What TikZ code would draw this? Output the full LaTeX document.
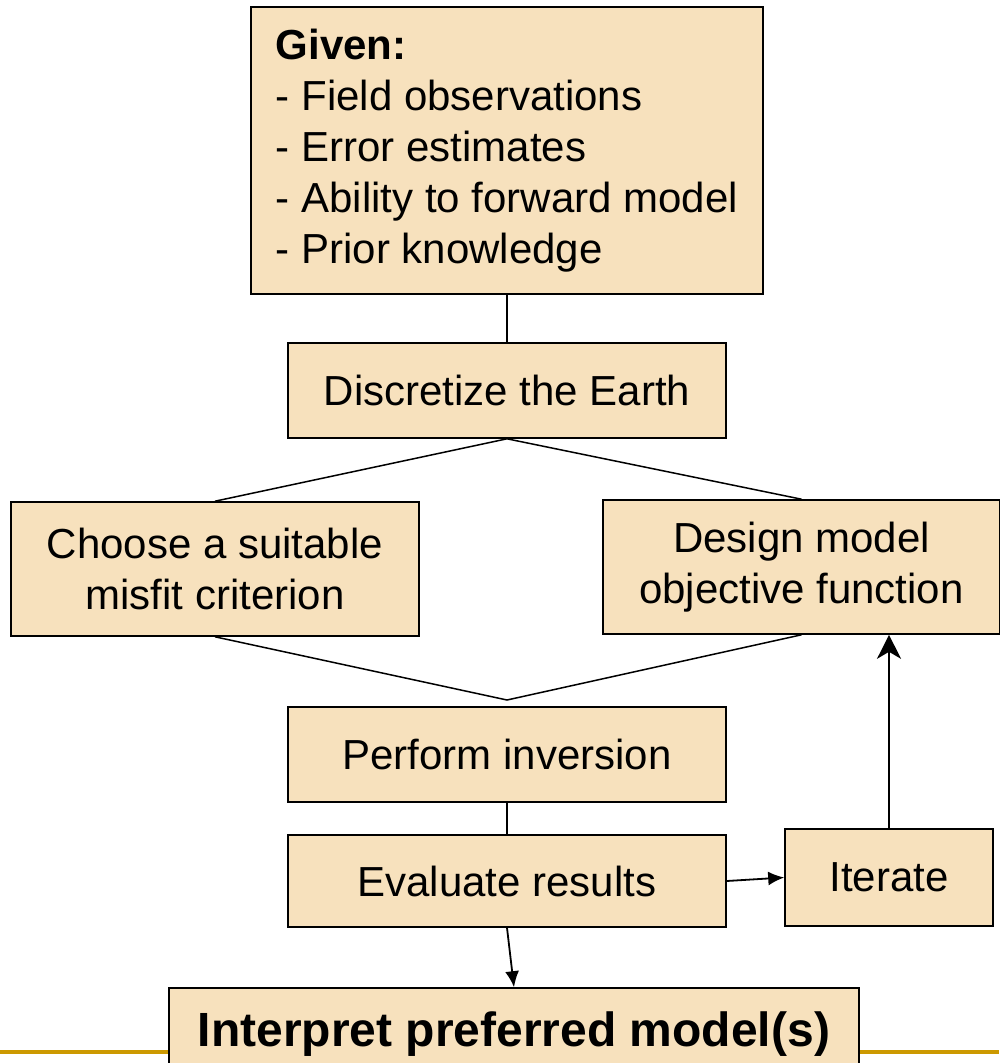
\documentclass[tikz,border=0pt]{standalone}
\usepackage{fontspec}
\setmainfont{Liberation Sans}
\usetikzlibrary{arrows.meta,calc}
\definecolor{boxfill}{RGB}{247,225,189}
\definecolor{gold}{RGB}{204,153,0}
\begin{document}
\begin{tikzpicture}[x=1pt,y=-1pt,
  box/.style={draw=black,line width=1.6pt,fill=boxfill,inner sep=0pt,align=center,
    font=\fontsize{42}{51}\selectfont},
  conn/.style={line width=1.5pt},
  arr/.style={line width=1.8pt,-{Latex[length=16pt,width=14pt]}},
  uparr/.style={line width=1.8pt,-{Stealth[length=24pt,width=24pt,inset=7pt]}}]
\useasboundingbox (0,0) rectangle (999,1063);
\draw[gold,line width=4pt] (0,1052) -- (999,1052);
\node[box,minimum width=512pt,minimum height=287pt,align=left] (given) at (507,150.5)
  {\textbf{Given:}\\- Field observations\\- Error estimates\\- Ability to forward model\\- Prior knowledge};
\node[box,minimum width=438pt,minimum height=95pt] (disc) at (507,390.5) {Discretize the Earth};
\node[box,minimum width=408pt,minimum height=134pt] (choose) at (215,569) {Choose a suitable\\misfit criterion};
\node[box,minimum width=397pt,minimum height=134pt] (design) at (801.5,567) {Design model\\objective function};
\node[box,minimum width=438pt,minimum height=95pt] (perform) at (507,754.5) {Perform inversion};
\node[box,minimum width=438pt,minimum height=92pt] (eval) at (507,881) {Evaluate results};
\node[box,minimum width=208pt,minimum height=97pt] (iter) at (889,877.5) {Iterate};
\node[box,minimum width=690pt,minimum height=92pt,font=\fontsize{48}{56}\selectfont\bfseries] (interp) at (514,1034) {Interpret preferred model(s)};
\coordinate (merge) at (507,700);
\draw[conn] (given.south) -- (disc.north);
\draw[conn] (choose.north) -- (disc.south) -- (design.north);
\draw[conn] (choose.south) -- (merge) -- (design.south);
\draw[conn] (perform.south) -- (eval.north);
\draw[arr] (eval.east) -- (iter.west);
\draw[uparr] (iter.north) -- (design.south -| iter.north);
\draw[arr] (eval.south) -- (interp.north);
\end{tikzpicture}
\end{document}
